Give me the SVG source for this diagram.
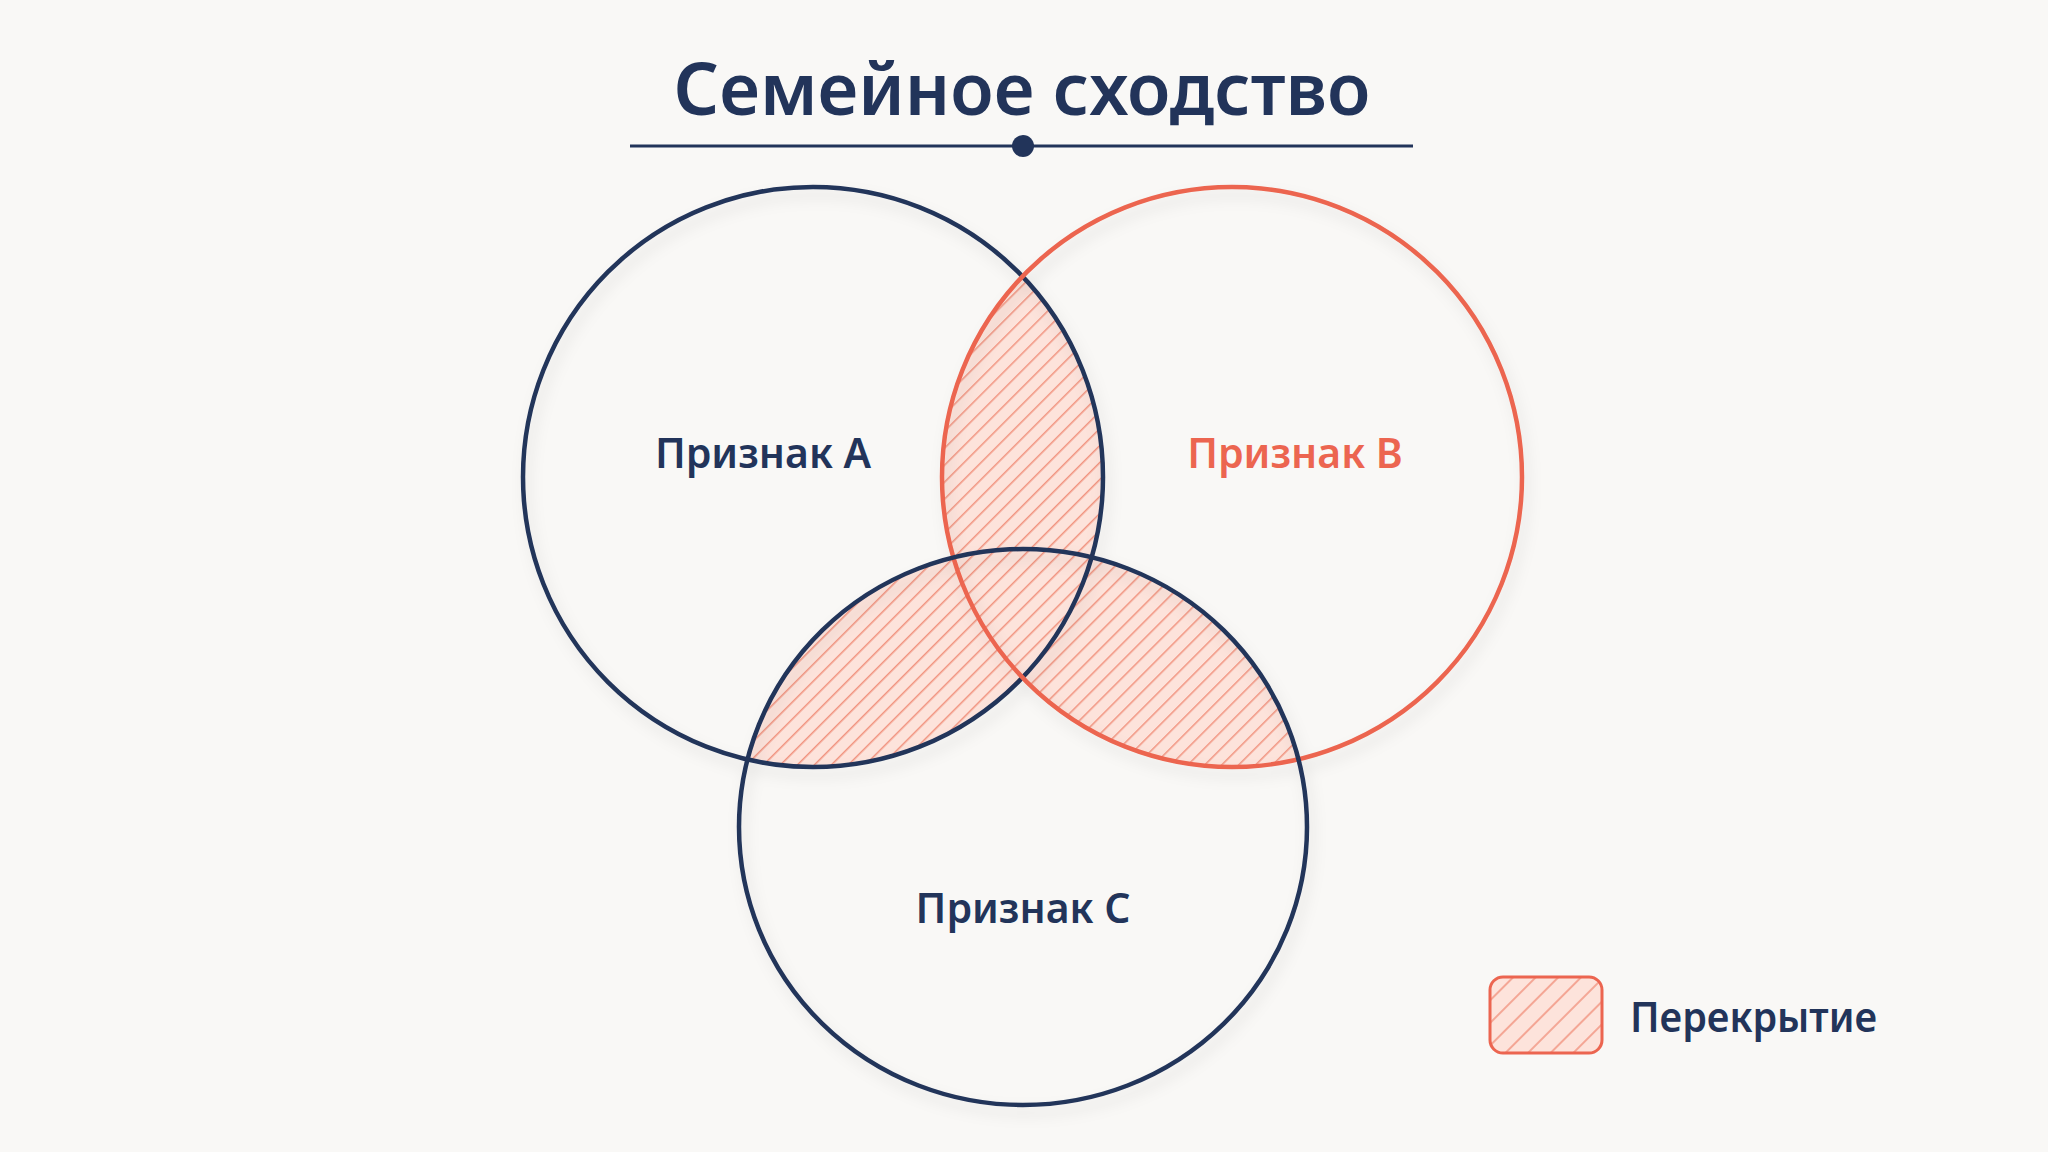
<svg xmlns="http://www.w3.org/2000/svg" width="2048" height="1152" viewBox="0 0 2048 1152">
  <style>
    .title { font-family: "Noto Sans", "Open Sans", sans-serif; font-weight: 600; font-size: 73px; fill: #22345a; }
    .lbl { font-family: "Noto Sans", "Open Sans", sans-serif; font-weight: 600; font-size: 41px; }
    .navy { fill: #22345a; }
    .orange { fill: #ec6550; }
    .ringN { fill: none; stroke: #22345a; stroke-width: 4.5; }
    .ringO { fill: none; stroke: #ec6550; stroke-width: 4.5; }
  </style>
  <defs>
    <pattern id="hatch" patternUnits="userSpaceOnUse" width="12" height="12" patternTransform="rotate(45)">
      <rect width="12" height="12" fill="#fde3db"/>
      <line x1="0.8" y1="0" x2="0.8" y2="12" stroke="#f08670" stroke-width="1.3"/>
    </pattern>
    <pattern id="hatchL" patternUnits="userSpaceOnUse" width="16" height="16" patternTransform="rotate(45)">
      <rect width="16" height="16" fill="#fde3db"/>
      <line x1="1" y1="0" x2="1" y2="16" stroke="#f08670" stroke-width="1.3"/>
    </pattern>
    <clipPath id="cA"><circle cx="813" cy="477" r="290"/></clipPath>
    <clipPath id="cB"><circle cx="1232" cy="477" r="290"/></clipPath>
    <clipPath id="cC"><ellipse cx="1023" cy="827" rx="284" ry="278"/></clipPath>
    <filter id="sh" x="-10%" y="-10%" width="120%" height="120%">
      <feDropShadow dx="4" dy="8" stdDeviation="7" flood-color="#000" flood-opacity="0.10"/>
    </filter>
  </defs>

  <rect width="2048" height="1152" fill="#f9f8f6"/>

  <g id="title">
    <text class="title" x="1022" y="115" text-anchor="middle" textLength="697" lengthAdjust="spacingAndGlyphs">Семейное сходство</text>
    <line x1="630" y1="146" x2="1413" y2="146" stroke="#22345a" stroke-width="3"/>
    <circle cx="1023" cy="146" r="11" class="navy"/>
  </g>

  <g id="overlaps">
    <g clip-path="url(#cA)"><rect x="500" y="150" width="1050" height="980" fill="url(#hatch)" clip-path="url(#cB)"/></g>
    <g clip-path="url(#cA)"><rect x="500" y="150" width="1050" height="980" fill="url(#hatch)" clip-path="url(#cC)"/></g>
    <g clip-path="url(#cB)"><rect x="500" y="150" width="1050" height="980" fill="url(#hatch)" clip-path="url(#cC)"/></g>
  </g>

  <g id="circles" filter="url(#sh)">
    <g id="circleA"><circle cx="813" cy="477" r="290" class="ringN"/></g>
    <g id="circleB"><circle cx="1232" cy="477" r="290" class="ringO"/></g>
    <g id="circleC"><ellipse cx="1023" cy="827" rx="284" ry="278" class="ringN"/></g>
  </g>

  <g id="labelA"><text class="lbl navy" x="763" y="468" text-anchor="middle">Признак A</text></g>
  <g id="labelB"><text class="lbl orange" x="1295" y="468" text-anchor="middle">Признак B</text></g>
  <g id="labelC"><text class="lbl navy" x="1023" y="923" text-anchor="middle">Признак C</text></g>

  <g id="legend">
    <rect x="1490" y="977" width="112" height="76" rx="13" fill="url(#hatchL)" stroke="#ec6550" stroke-width="3"/>
    <text class="lbl navy" x="1630" y="1032" font-size="41" textLength="247" lengthAdjust="spacingAndGlyphs">Перекрытие</text>
  </g>
</svg>
